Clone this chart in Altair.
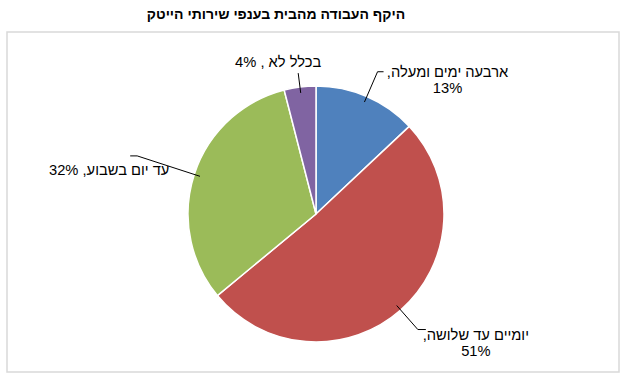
import altair as alt
import pandas as pd

# ---- data ----
title_text = "היקף העבודה מהבית בענפי שירותי הייטק"
categories = ["ארבעה ימים ומעלה", "יומיים עד שלושה", "עד יום בשבוע", "בכלל לא"]
values = [13, 51, 32, 4]
colors = ["#4F81BD", "#C0504D", "#9BBB59", "#8064A2"]

RLE, PDF = "\u202B", "\u202C"


def make_label(cat, val, i):
    if i in (0, 1):
        return RLE + cat + "," + PDF + "\n" + f"{val}%"
    if i == 3:
        return RLE + cat + " , " + f"{val}%" + PDF
    return RLE + cat + ", " + f"{val}%" + PDF


df = pd.DataFrame({
    "cat": categories,
    "value": values,
    "order": list(range(len(categories))),
    "label": [make_label(c, v, i) for i, (c, v) in enumerate(zip(categories, values))],
})

# ---- layout / style constants ----
W, H = 612, 340
CX, CY = 309, 182
R = 128
FONT = "Liberation Sans"

elbow_r = "[155,154,188,142]"
tail = "[6,8,-7,0]"
ldx = "[70,58,-28,-20]"
ldy = "[1,6,15,-10]"

xs = alt.Scale(domain=[0, W], nice=False, zero=False)
ys = alt.Scale(domain=[H, 0], nice=False, zero=False)

base = alt.Chart(df)

pie = base.mark_arc(outerRadius=R, stroke="white", strokeWidth=1.5).encode(
    theta=alt.Theta("value:Q", stack=True),
    order=alt.Order("order:Q"),
    color=alt.Color("cat:N", scale=alt.Scale(domain=categories, range=colors), legend=None),
    x=alt.value(CX),
    y=alt.value(CY),
)

geo = base.transform_window(
    cum="sum(value)", sort=[alt.SortField("order")]
).transform_joinaggregate(
    total="sum(value)"
).transform_calculate(
    mid="2*PI*(datum.cum - datum.value/2)/datum.total"
)

lines = geo.transform_calculate(
    step="[0,1,2]"
).transform_flatten(
    ["step"]
).transform_calculate(
    r=f"datum.step == 0 ? {R - 6} : {elbow_r}[datum.order]"
).transform_calculate(
    px=f"{CX} + datum.r*sin(datum.mid) + (datum.step == 2 ? {tail}[datum.order] : 0)",
    py=f"{CY} - datum.r*cos(datum.mid)",
).mark_line(color="black", strokeWidth=1).encode(
    x=alt.X("px:Q", scale=xs, axis=None),
    y=alt.Y("py:Q", scale=ys, axis=None),
    detail="cat:N",
    order="step:Q",
)

labels = geo.transform_calculate(
    px=f"{CX} + {elbow_r}[datum.order]*sin(datum.mid) + {ldx}[datum.order]",
    py=f"{CY} - {elbow_r}[datum.order]*cos(datum.mid) + {ldy}[datum.order]",
).mark_text(
    font=FONT, fontSize=14.7, color="black", align="center", baseline="middle",
    lineBreak="\n", lineHeight=16,
).encode(
    x=alt.X("px:Q", scale=xs, axis=None),
    y=alt.Y("py:Q", scale=ys, axis=None),
    text="label:N",
)

chart = alt.layer(pie, lines, labels).properties(
    width=W,
    height=H,
    title=alt.Title(
        title_text, font=FONT, fontSize=14, fontWeight="bold", color="black",
        anchor="middle", dx=-37, offset=10,
    ),
    autosize=alt.AutoSizeParams(type="none"),
    padding={"left": 7, "top": 32, "right": 5, "bottom": 6},
    background="white",
).configure_view(
    stroke="#d9d9d9", strokeWidth=1.5
)

chart.save("out.html", embed_options={"renderer": "svg", "actions": False})
